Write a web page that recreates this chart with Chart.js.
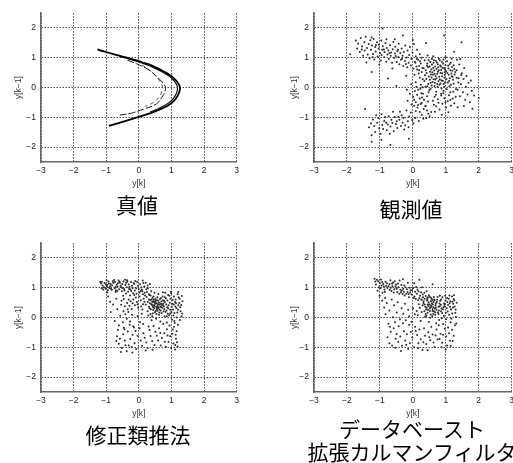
<!DOCTYPE html>
<html><head><meta charset="utf-8">
<script src="https://cdn.jsdelivr.net/npm/chart.js@4/dist/chart.umd.min.js"></script>
<style>
html,body{margin:0;padding:0;width:513px;height:463px;overflow:hidden;background:#fff;position:relative}
.p{position:absolute}
.cap{position:absolute;width:300px;font-family:"Noto Sans CJK JP","Noto Sans CJK SC",sans-serif;font-size:21px;color:#000;white-space:nowrap;text-align:center;line-height:22.5px}
</style></head><body>
<div class="p" style="left:0px;top:3px"><canvas id="c1" width="243" height="190"></canvas></div>
<div class="p" style="left:273px;top:3px"><canvas id="c2" width="245" height="190"></canvas></div>
<div class="p" style="left:0px;top:233px"><canvas id="c3" width="243" height="190"></canvas></div>
<div class="p" style="left:273px;top:233px"><canvas id="c4" width="245" height="190"></canvas></div>
<div class="cap" style="left:-13px;top:193px">真値</div>
<div class="cap" style="left:261px;top:197px">観測値</div>
<div class="cap" style="left:-12px;top:423px">修正類推法</div>
<div class="cap" style="left:262px;top:417px">データベースト<br>拡張カルマンフィルタ</div>
<script>
const X_TICKS = [-3,-2,-1,0,1,2,3];
const Y_TICKS = [-2,-1,0,1,2];
const X_TITLE = 'y[k]';
const Y_TITLE = 'y[k−1]';

// 真値 : strands read along the attractor (y[k], y[k-1])
const TRUE_OUTER = [[-1.27,1.28],[-1.1,1.22],[-0.9,1.16],[-0.7,1.1],[-0.5,1.04],[-0.3,0.98],[-0.1,0.92],[0.1,0.85],[0.33,0.77],[0.55,0.66],[0.75,0.55],[0.94,0.43],[1.08,0.31],[1.19,0.17],[1.26,0.02],[1.25,-0.12],[1.19,-0.28],[1.09,-0.43],[0.93,-0.58],[0.72,-0.7],[0.48,-0.81],[0.22,-0.91],[-0.05,-1.0],[-0.35,-1.1],[-0.65,-1.2],[-0.92,-1.29]];
const TRUE_OUTER2 = [[-0.6,1.05],[-0.3,0.96],[0.0,0.86],[0.3,0.74],[0.55,0.62],[0.78,0.49],[0.96,0.36],[1.1,0.2],[1.18,0.04],[1.18,-0.1],[1.12,-0.27],[1.0,-0.44],[0.83,-0.58],[0.6,-0.71],[0.35,-0.82]];
const TRUE_INNER1 = [[-0.35,0.92],[-0.07,0.8],[0.28,0.61],[0.59,0.33],[0.75,0.14],[0.82,0.0],[0.8,-0.13],[0.74,-0.27],[0.54,-0.55],[0.18,-0.71],[-0.23,-0.86],[-0.63,-0.93]];
const TRUE_INNER2 = [[0.1,0.76],[0.4,0.52],[0.62,0.25],[0.72,0.05],[0.71,-0.12],[0.62,-0.32],[0.45,-0.5],[0.2,-0.63]];

// 観測値
const OBS_POINTS = [
[-1.73,1.58],[-1.69,1.31],[-1.66,1.47],[-1.61,1.19],[-1.58,1.66],[-1.54,1.38],[-1.51,1.07],[-1.47,1.52],[-1.46,1.24],[-1.43,1.71],[-1.39,1.33],[-1.37,1.11],[-1.34,1.46],[-1.31,0.98],[-1.29,1.59],[-1.27,1.27],[-1.24,1.41],[-1.21,1.13],[-1.19,1.63],[-1.17,0.94],[-1.14,1.36],[-1.13,1.21],[-1.09,1.52],[-1.07,1.04],[-1.04,1.31],[-1.03,1.44],[-0.99,1.16],[-0.97,0.91],[-0.96,1.58],[-0.93,1.27],[-0.91,1.39],[-0.87,1.02],[-0.86,1.19],[-0.83,1.49],[-0.81,0.87],[-0.79,1.33],[-0.77,1.11],[-0.74,1.24],[-0.73,0.96],[-0.69,1.42],[-0.67,1.07],[-0.66,1.18],[-0.63,0.83],[-0.61,1.29],[-0.59,1.53],[-0.57,0.99],[-0.54,1.14],[-0.53,1.37],[-0.49,0.86],[-0.47,1.22],[-0.44,1.03],[-0.43,1.47],[-0.41,0.78],[-0.38,1.16],[-0.36,0.93],[-0.34,1.31],[-0.31,1.07],[-0.29,0.72],[-0.27,1.19],[-0.24,0.89],[-0.23,1.41],[-0.19,1.01],[-0.17,0.68],[-0.16,1.24],[-0.13,0.83],[-0.11,1.09],[-0.09,1.36],[-0.06,0.74],[-0.04,0.96],[-0.01,1.18],[0.02,0.63],[0.03,1.46],[0.06,0.87],[0.09,1.05],[0.11,0.71],[0.13,1.27],[0.16,0.93],[0.19,0.58],[0.21,1.12],[0.24,0.81],[0.27,1.0],[0.29,0.66],[-1.41,0.84],[-0.62,0.64],[-1.02,0.77],[-1.22,1.02],[-0.88,1.28],[-0.71,1.15],[-0.52,1.06],[-0.33,0.97],[-1.12,1.43],[-0.95,1.09],[-0.45,1.27],[-0.21,0.79],[-1.55,1.28],[-0.8,1.62],[-0.55,1.62],[-1.25,1.68],[0.12,0.97],
[0.72,0.31],[1.08,0.64],[0.47,0.12],[0.93,-0.11],[0.58,0.77],[1.21,0.36],[0.66,0.05],[0.84,0.49],[0.39,0.58],[1.15,0.83],[0.77,0.68],[0.52,0.26],[0.98,0.18],[0.61,0.43],[1.29,0.52],[0.88,0.87],[0.44,0.81],[0.71,-0.14],[1.02,0.29],[0.56,0.61],[0.81,0.09],[1.17,0.47],[0.64,0.92],[0.95,0.66],[0.49,0.37],[1.11,0.04],[0.76,0.53],[0.35,0.22],[0.89,0.38],[1.24,0.13],[0.68,0.71],[1.04,0.88],[0.57,0.07],[0.83,0.74],[0.42,0.49],[0.97,0.42],[1.19,0.69],[0.63,0.28],[0.79,0.97],[1.06,0.17],[0.53,0.86],[0.91,0.23],[0.74,0.46],[1.33,0.33],[0.46,0.68],[0.86,0.59],[1.12,0.31],[0.67,0.16],[0.99,0.76],[0.59,0.51],[0.82,0.27],[1.26,0.62],[0.38,0.03],[0.73,0.84],[1.01,0.55],[0.54,-0.04],[0.94,0.12],[0.69,0.39],[1.14,0.58],[0.87,-0.03],[0.48,0.92],[0.78,0.21],[1.09,0.43],[0.62,0.66],[0.92,0.81],[0.33,0.65],[1.22,0.26],[0.75,0.03],[0.55,0.44],[0.96,0.33],[0.85,0.71],[1.07,0.73],[0.65,0.57],[0.41,0.29],[1.16,0.09],[0.72,0.62],[0.89,0.48],[0.51,0.71],[1.03,-0.06],[0.8,0.36],[0.6,0.19],[0.93,0.94],[1.18,0.38],[0.7,0.89],[0.44,0.04],[0.84,0.14],[1.27,0.44],[0.57,0.34],[0.98,0.61],[0.76,0.78],[1.12,0.78],[0.66,0.46],[0.87,0.24],[0.52,0.53],[1.05,0.49],[0.79,0.58],[0.63,0.83],[0.95,0.02],[1.2,0.56],[0.43,0.73],[0.74,0.12],[0.9,0.66],[1.1,0.22],[0.58,0.96],[0.82,0.92],[0.37,0.41],[1.24,0.75],[0.68,0.27],[0.97,0.51],[0.54,0.16],
[0.05,0.43],[0.09,0.18],[0.13,0.61],[0.16,-0.07],[0.21,0.33],[0.19,0.72],[0.24,0.09],[0.27,0.52],[0.26,-0.19],[0.3,0.28],[0.08,0.83],[0.18,0.47],[0.29,0.01],
[0.7,-0.24],[0.5,-0.08],[0.86,-0.21],[1.14,-0.16],[1.31,-0.05],[0.62,1.05],[0.45,1.08],[1.0,1.02],[1.18,0.97],[0.36,0.92],[0.22,0.88],
[1.33,0.58],[1.36,-0.07],[1.39,0.31],[1.41,0.77],[1.43,-0.29],[1.46,0.11],[1.49,0.48],[1.52,-0.16],[1.54,0.29],[1.56,0.66],[1.59,-0.41],[1.61,0.03],[1.63,0.39],[1.66,-0.23],[1.69,0.16],[1.73,-0.49],[1.76,0.24],[1.79,-0.11],[1.81,-0.71],[1.34,0.93],[1.44,0.96],[1.55,-0.62],[1.86,-0.27],[1.47,0.42],[1.38,0.17],
[-1.02,-1.37],[-0.41,-1.08],[0.21,-0.82],[-1.27,-1.21],[-0.68,-1.31],[0.07,-1.02],[-0.87,-1.12],[-0.23,-1.27],[0.43,-0.77],[-1.14,-1.49],[-0.55,-0.99],[-0.06,-0.84],[-0.79,-1.43],[0.32,-1.05],[-0.34,-0.93],[-1.21,-1.07],[-0.62,-1.19],[0.14,-0.67],[-0.93,-1.26],[-0.15,-1.13],[0.51,-0.96],[-0.47,-1.36],[-1.08,-1.18],[-0.28,-1.02],[0.02,-1.21],[-0.73,-0.96],[0.38,-0.63],[-0.98,-1.55],[-0.39,-0.81],[-1.33,-1.33],[-0.58,-1.47],[0.27,-0.92],[-0.84,-0.99],[-0.11,-0.97],[-0.65,-1.08],[0.09,-0.79],[-1.17,-1.29],[-0.31,-1.18],[0.47,-0.88],[-0.76,-1.24],[-0.02,-1.09],[-0.51,-1.22],[-0.9,-1.39],[0.18,-1.12],[-0.19,-0.77],[-1.05,-1.02],[-0.44,-0.98],[0.33,-0.72],[-0.7,-1.55],[-0.26,-1.41],[0.56,-0.82],[-1.25,-1.6],[0.04,-0.61],[-0.81,-1.18],[-0.36,-1.29],[0.24,-0.55],[-0.6,-0.81],[-1.11,-0.93],[-0.13,-1.33],[-0.95,-0.9],[0.41,-1.02],[-0.49,-1.13],
[-0.16,-0.44],[-0.09,-0.21],[-0.04,-0.57],[0.01,-0.31],[0.06,-0.12],[0.09,-0.49],[0.13,-0.24],[0.16,-0.59],[0.21,-0.37],[0.23,-0.04],[0.27,-0.52],[0.31,-0.21],[0.34,-0.41],[0.39,-0.61],[0.43,-0.29],[0.46,-0.47],[0.48,-0.16],[-0.18,-0.07],[0.11,0.03],[-0.05,0.11],[0.28,-0.33],[0.04,-0.41],
[0.61,-0.44],[0.99,-0.49],[0.71,-0.63],[1.16,-0.61],[0.76,-0.39],[1.3,-0.31],[0.81,-0.74],[0.66,-0.31],[1.06,-0.46],[0.86,-0.27],[1.26,-0.53],[0.9,-0.54],[1.1,-0.26],[0.96,-0.36],[1.36,-0.66],[1.01,-0.67],[1.21,-0.37],[0.78,-0.51],[0.93,-0.19],[1.08,-0.83],[0.67,-0.81],[1.23,-0.14],[0.88,-0.91],[0.64,-0.58],[1.14,-0.42],
[-0.92,1.98],[-0.3,1.75],[0.95,1.75],[1.48,1.52],[-1.9,1.12],[-1.25,0.52],[-1.45,-0.72],[-0.95,-1.75],[-0.68,-1.93],[-0.12,-1.72],[-1.25,-1.82],[-0.5,0.05],[-0.75,0.3],[2.0,-0.35],[0.4,1.5],[0.0,1.6],[1.25,1.2],[-0.2,0.4]
];

// 修正類推法
const MA_POINTS = [
[-1.16,1.14],[-0.71,1.03],[-0.24,1.19],[0.11,0.88],[-0.93,1.21],[-0.45,0.96],[0.27,1.08],[-1.07,1.02],[-0.58,1.17],[-0.12,0.91],[-0.83,0.93],[0.04,1.12],[-0.36,1.25],[-1.13,1.2],[-0.66,0.89],[0.19,0.74],[-0.97,1.09],[-0.29,1.03],[-0.51,1.13],[0.08,1.01],[-0.78,1.16],[-0.17,0.82],[-1.02,0.97],[-0.41,1.09],[0.23,0.95],[-0.88,1.05],[-0.05,1.2],[-0.62,1.24],[-0.33,0.87],[0.14,1.16],[-1.11,1.08],[-0.74,0.98],[-0.21,1.07],[0.31,0.78],[-0.95,0.92],[-0.54,1.02],[-0.08,0.98],[-0.8,1.22],[-0.39,1.17],[0.17,1.04],[-1.05,1.16],[-0.68,1.1],[-0.26,0.94],[0.02,0.84],[-0.86,1.13],[-0.47,1.21],[-0.14,1.13],[-0.6,0.95],[0.25,0.86],[-0.99,1.25],[-0.31,1.11],[-0.73,1.19],[0.09,0.93],[-0.44,0.91],[-1.09,0.94],[-0.19,0.99],[-0.56,1.07],[0.21,1.17],[-0.9,0.99],[-0.02,1.07],[-0.37,1.02],[-0.64,1.15],[-0.82,1.08],[-0.11,1.23],[0.13,0.78],[-0.5,0.99],[-1.01,1.11],[-0.23,0.89],[0.28,0.98],[-0.7,0.92],[-0.42,1.27],[0.06,0.89],[-0.92,1.14],[-0.16,1.16],[-0.59,1.2],[0.34,1.13],[-0.76,1.26],[-0.3,0.96],[0.0,0.95],[-0.85,0.97],[-1.18,1.19],[-0.52,0.88],[0.18,0.83],[-0.07,0.8],[-0.35,1.2],[-0.97,1.03],[0.38,0.88],[-0.65,1.04],[-1.14,0.98],[0.12,1.24],
[-0.48,0.73],[0.21,0.44],[-0.17,0.61],[0.42,0.66],[-0.36,0.49],[0.07,0.37],[-0.27,0.74],[0.33,0.31],[-0.06,0.52],[0.52,0.57],[-0.43,0.38],[0.15,0.63],[-0.22,0.29],[0.47,0.39],[-0.31,0.61],[0.02,0.71],[0.27,0.52],[-0.12,0.41],[-0.53,0.56],[0.38,0.45],[-0.09,0.67],[0.11,0.27],[-0.39,0.81],[0.56,0.33],[-0.19,0.48],[0.24,0.69],[-0.02,0.33],[0.44,0.55],[-0.29,0.4],[0.17,0.53],[-0.46,0.62],[0.31,0.61],[-0.14,0.76],[0.06,0.58],[0.5,0.47],[-0.34,0.28],[0.36,0.74],[-0.25,0.55],[0.13,0.45],[-0.04,0.44],
[0.47,0.42],[0.82,0.19],[1.13,0.61],[0.58,0.31],[0.94,0.73],[0.36,0.12],[1.27,0.35],[0.69,0.54],[1.02,-0.07],[0.51,0.63],[0.77,0.38],[1.18,0.17],[0.41,0.52],[0.88,0.57],[0.62,0.09],[1.07,0.44],[0.31,0.36],[0.73,0.71],[1.22,0.68],[0.55,0.48],[0.96,0.26],[0.44,0.25],[0.81,0.83],[1.31,0.04],[0.66,0.37],[1.04,0.59],[0.39,0.61],[0.86,0.04],[0.6,0.56],[1.15,0.32],[0.49,0.18],[0.75,0.47],[0.99,0.82],[0.27,0.21],[0.7,0.15],[1.24,0.49],[0.53,0.37],[0.91,0.41],[0.45,0.71],[1.09,0.15],[0.64,0.44],[0.83,0.64],[0.34,0.48],[1.19,0.78],[0.57,0.23],[0.78,0.29],[1.01,0.36],[0.42,0.39],[0.68,0.66],[1.28,0.21],[0.5,0.53],[0.89,0.13],[0.61,0.34],[1.11,0.52],[0.37,0.28],[0.74,0.58],[0.95,0.5],[0.54,0.12],[1.21,0.41],[0.67,0.24],[0.84,0.45],[0.46,0.6],[1.05,0.27],[0.59,0.45],[0.79,0.04],[1.34,0.55],[0.4,0.44],[0.72,0.33],[0.97,0.63],[0.56,0.58],[1.16,0.0],[0.63,0.17],[0.87,0.35],[0.48,0.31],[1.25,0.63],[0.71,0.43],[0.93,0.08],[0.52,0.47],[1.08,0.71],[0.65,0.62],[0.8,0.52],[0.43,0.14],[1.0,0.19],[0.58,0.39],[1.3,0.42],[0.76,0.21],[0.9,0.76],[0.35,0.58],[1.12,0.37],[0.69,0.35],[0.55,0.28],[0.85,0.24],[1.2,0.26],[0.62,0.5],[0.47,0.51],[1.03,0.46],[0.74,0.41],[0.29,0.07],[0.96,0.14],[1.26,-0.08],[0.53,-0.04],[0.66,-0.13],[0.86,-0.17],[1.1,-0.18],[0.39,-0.09],[0.6,0.79],[0.74,0.85],[0.48,0.83],[0.98,0.87],[1.21,0.86],[0.33,0.76],[1.32,0.72],[1.06,0.07],[0.8,0.68],[0.57,0.68],[0.44,0.34],[0.68,0.46],[0.9,0.31],[0.63,0.27],[0.52,0.22],[0.77,0.56],[1.14,0.48],[1.33,0.14],[0.41,0.04],
[-0.67,-0.63],[0.23,-0.84],[-0.31,-0.94],[0.78,-0.53],[-0.52,-1.02],[1.08,-0.31],[0.06,-0.77],[-0.19,-0.58],[0.48,-0.92],[1.14,-0.71],[-0.43,-0.77],[0.33,-0.42],[-0.08,-1.06],[0.91,-0.82],[-0.61,-0.88],[0.62,-0.36],[1.19,-0.97],[-0.26,-0.72],[0.14,-0.53],[0.71,-0.69],[-0.48,-0.56],[0.41,-0.79],[1.03,-0.54],[-0.13,-0.86],[0.55,-0.61],[-0.37,-1.13],[0.86,-0.39],[1.16,-0.46],[0.02,-0.36],[-0.58,-0.71],[0.27,-1.02],[0.96,-0.63],[-0.22,-0.99],[0.67,-0.94],[1.11,-1.07],[-0.04,-0.61],[0.45,-0.28],[-0.34,-0.47],[0.83,-0.98],[1.06,-0.87],[0.18,-0.68],[-0.55,-1.16],[0.59,-0.77],[1.2,-0.24],[-0.15,-0.33],[0.36,-0.62],[0.75,-0.22],[-0.41,-0.93],[1.13,-0.58],[0.1,-0.95],[0.94,-0.27],[-0.28,-0.24],[0.51,-0.48],[1.09,-0.12],[-0.64,-0.42],[0.21,-1.11],[0.8,-0.81],[-0.1,-0.45],[0.66,-0.52],[1.17,-0.83],[-0.46,-0.34],[0.3,-0.3],[0.99,-1.02],[1.04,-0.4],[0.42,-1.08],[-0.69,-0.79],[0.13,-0.22],[0.88,-0.6],[-0.2,-1.17],[1.12,-0.92],
[-0.94,0.71],[-0.88,0.53],[-0.86,0.19],[-0.79,0.44],[-0.74,-0.12],[-0.69,0.63],[-0.66,0.28],[-0.61,-0.27],[-0.57,0.06],[-0.54,0.43],[-0.49,-0.16],[-0.47,0.21],[-0.44,-0.39],[-0.41,0.11],[-0.37,-0.04],[-0.32,0.19],[-0.27,-0.13],[-0.21,0.09],[-0.17,-0.29],[-0.04,0.04],[0.09,0.13],[0.04,-0.16],[-0.71,0.86],[-0.97,0.84]
];

// データベースト拡張カルマンフィルタ
const DBEKF_POINTS = [
[-1.14,1.21],[-0.62,1.05],[-0.13,0.79],[0.31,0.68],[-0.9,1.13],[-0.38,0.93],[0.12,0.8],[-1.03,1.02],[-0.51,1.11],[-0.02,0.92],[0.44,0.61],[-0.77,0.99],[-0.27,0.87],[0.22,0.73],[-1.09,1.27],[-0.65,0.89],[-0.18,0.95],[0.35,0.83],[-0.95,1.08],[-0.44,1.02],[0.05,0.71],[-0.83,1.2],[-0.31,0.79],[0.17,0.88],[-0.71,1.12],[-0.22,1.02],[0.27,0.61],[-1.0,1.16],[-0.56,0.95],[-0.08,0.84],[0.49,0.75],[-0.86,0.94],[-0.35,1.09],[0.09,0.62],[-0.6,1.18],[-0.12,0.68],[0.39,0.72],[-0.98,0.98],[-0.47,0.86],[0.01,0.99],[-0.74,1.05],[-0.25,0.74],[0.2,0.65],[-1.12,1.11],[-0.67,1.0],[-0.16,0.86],[0.56,0.66],[-0.88,1.04],[-0.41,0.8],[0.14,0.94],[-0.53,1.04],[-0.04,0.77],[0.3,0.77],[-0.79,1.15],[-0.29,0.97],[-1.05,1.22],[-0.58,0.84],[0.07,0.87],[0.46,0.68],[-0.93,1.19],[-0.36,0.85],[0.25,0.85],[-0.7,0.93],[-0.2,0.8],[0.59,0.59],[-1.16,1.3],[-0.49,0.97],[-0.1,1.0],[0.36,0.63],[-0.81,1.06],[-0.33,0.91],[0.03,0.66],[-0.63,1.14],[-0.07,0.92],[0.52,0.7],[-0.97,1.28],[-0.45,1.14],[0.16,0.58],[-0.26,1.08],[0.42,0.88],[-0.55,1.22],[0.1,1.03],[-0.15,1.17],[-0.85,0.87],[-0.68,1.25],[0.28,1.02],[-0.4,1.24],[0.04,1.15],[-1.07,0.9],[-0.92,0.83],[0.6,1.12],[0.2,1.27],[-0.3,1.29],
[0.42,0.33],[0.78,0.12],[1.14,0.55],[0.55,0.41],[0.91,0.28],[0.27,0.19],[1.27,0.37],[0.66,0.58],[1.01,-0.06],[0.48,0.51],[0.72,0.26],[1.2,0.14],[0.36,0.44],[0.86,0.61],[0.59,0.05],[1.07,0.42],[0.21,0.33],[0.75,0.69],[1.24,0.62],[0.52,0.22],[0.95,0.47],[0.39,0.12],[0.82,0.38],[1.31,0.02],[0.63,0.35],[1.04,0.66],[0.33,0.55],[0.88,-0.02],[0.57,0.63],[1.16,0.27],[0.45,0.16],[0.7,0.47],[0.98,0.73],[0.15,0.08],[0.68,0.18],[1.23,0.46],[0.51,0.3],[0.93,0.35],[0.44,0.66],[1.1,0.09],[0.61,0.44],[0.83,0.56],[0.3,0.41],[1.19,0.71],[0.54,0.1],[0.79,0.24],[1.03,0.31],[0.4,0.27],[0.65,0.61],[1.29,0.16],[0.47,0.39],[0.89,0.15],[0.6,0.29],[1.12,0.48],[0.35,0.21],[0.73,0.52],[0.97,0.44],[0.53,-0.01],[1.22,0.34],[0.64,0.21],[0.85,0.43],[0.43,0.57],[1.06,0.2],[0.58,0.48],[0.8,-0.08],[1.33,0.5],[0.38,0.36],[0.7,0.34],[0.99,0.57],[0.55,0.55],[1.17,-0.04],[0.62,0.13],[0.87,0.3],[0.46,0.25],[1.26,0.57],[0.69,0.41],[0.94,0.06],[0.5,0.45],[1.09,0.63],[0.63,0.52],[0.81,0.47],[0.41,0.06],[1.0,0.16],[0.57,0.36],[1.3,0.27],[0.76,0.17],[0.9,0.68],[0.32,0.49],[1.13,0.36],[0.67,0.3],[0.24,-0.12],[0.49,-0.15],[0.71,-0.19],[0.92,-0.22],[1.15,-0.16],[1.32,-0.2],[0.18,0.45],[0.12,0.22],[0.26,0.6],[0.74,0.6],[0.86,0.21],[1.05,0.52],[0.6,0.22],[0.45,0.44],[0.53,0.35],[0.78,0.36],[0.68,0.09],[0.96,0.38],[1.2,0.53],[0.37,0.03],[0.82,0.73],[1.11,0.74],[1.25,0.75],[0.64,0.69],
[-0.77,-0.66],[0.24,-0.73],[-0.33,-0.95],[0.79,-0.26],[-0.53,-1.01],[1.07,-0.33],[0.04,-1.0],[-0.18,-0.56],[0.47,-0.49],[1.13,-0.78],[-0.44,-0.81],[0.34,-0.36],[-0.09,-0.86],[0.89,-0.85],[-0.63,-0.94],[0.6,-0.57],[1.24,-0.61],[-0.27,-0.46],[0.13,-0.59],[0.72,-0.4],[-0.49,-0.55],[0.41,-0.89],[1.01,-0.64],[-0.14,-1.06],[0.53,-0.76],[-0.38,-0.64],[0.84,-0.54],[1.19,-0.41],[0.07,-0.31],[-0.58,-0.36],[0.29,-1.09],[0.97,-0.38],[-0.23,-0.77],[0.66,-0.99],[1.04,-0.94],[-0.02,-0.67],[0.45,-1.1],[-0.71,-0.86],[0.81,-0.72],[1.1,-0.53],[0.17,-0.86],[-0.36,-1.12],[0.56,-0.31],[1.28,-0.26],[-0.11,-0.24],[0.37,-0.61],[0.75,-0.74],[-0.43,-0.29],[1.15,-0.95],[0.09,-0.45],[0.92,-0.58],[-0.3,-0.19],[0.5,-0.66],[0.63,-0.84],[-0.67,-0.48],[0.2,-0.4],[0.87,-1.0],[-0.06,-0.48],[0.69,-0.6],[1.21,-0.79],[-0.52,-0.71],[0.32,-0.83],[1.0,-1.07],[0.16,-1.03],[-0.2,-0.91],
[-1.01,0.73],[-0.93,0.57],[-0.87,0.34],[-0.83,0.11],[-0.79,0.49],[-0.74,-0.21],[-0.71,0.24],[-0.64,0.61],[-0.61,0.01],[-0.57,0.41],[-0.54,-0.16],[-0.49,0.17],[-0.46,0.51],[-0.39,-0.06],[-0.34,0.31],[-0.29,0.13],[-0.24,0.46],[-0.21,-0.09],[-0.14,0.26],[-0.11,0.04],[0.01,0.31],[0.06,0.11],[-0.04,-0.14],[-0.69,-0.31],[-0.84,0.66]
];

const toXY = a => a.map(p => ({x: p[0], y: p[1]}));
const minus = v => (v < 0 ? '\u2212' + Math.abs(v) : String(v));
const TICK_FONT = {family: 'Liberation Sans', size: 8.5};
const TITLE_FONT = {family: 'Liberation Sans', size: 8.5};

function makeScales(yTitlePad) {
  return {
    x: {
      type: 'linear', min: -3, max: 3,
      afterBuildTicks: s => { s.ticks = X_TICKS.map(v => ({value: v})); },
      afterFit: s => { s.height = 31; },
      ticks: {callback: minus, font: TICK_FONT, color: '#1a1a1a', padding: 4, maxRotation: 0, autoSkip: false},
      grid: {color: '#4a4a4a', lineWidth: 1, drawTicks: false},
      border: {display: true, color: '#666', width: 1.5, dash: [1.5, 1.5]},
      title: {display: true, text: X_TITLE, font: TITLE_FONT, color: '#333', padding: {top: 0, bottom: 4}}
    },
    y: {
      type: 'linear', min: -2.5, max: 2.5,
      afterBuildTicks: s => { s.ticks = Y_TICKS.map(v => ({value: v})); },
      afterFit: s => { s.width = 41; },
      ticks: {callback: minus, font: TICK_FONT, color: '#1a1a1a', padding: 5, autoSkip: false},
      grid: {color: '#4a4a4a', lineWidth: 1, drawTicks: false},
      border: {display: true, color: '#666', width: 1.5, dash: [1.5, 1.5]},
      title: {display: true, text: Y_TITLE, font: TITLE_FONT, color: '#333', padding: {top: yTitlePad, bottom: 0}}
    }
  };
}

function scatterSet(pts) {
  return {data: toXY(pts), pointRadius: 1.0, pointBackgroundColor: '#2a2a2a', pointBorderWidth: 0, pointHoverRadius: 0};
}
function curveSet(pts, w, color, dash) {
  return {data: toXY(pts), showLine: true, pointRadius: 0, borderColor: color, borderWidth: w, tension: 0.4, borderDash: dash || [], fill: false};
}

function make(id, datasets, yTitlePad) {
  new Chart(document.getElementById(id), {
    type: 'scatter',
    data: {datasets},
    options: {
      responsive: false, animation: false, devicePixelRatio: 1,
      events: [],
      layout: {padding: {left: 0, right: 6, top: 8, bottom: 0}},
      plugins: {legend: {display: false}, tooltip: {enabled: false}},
      scales: makeScales(yTitlePad)
    }
  });
}

make('c1', [
  curveSet(TRUE_OUTER, 1.8, '#000'),
  curveSet(TRUE_OUTER2, 1.2, '#111'),
  curveSet(TRUE_INNER1, 1.0, '#1a1a1a', [7, 2]),
  curveSet(TRUE_INNER2, 0.8, '#2a2a2a', [4, 3])
], 14);
make('c2', [scatterSet(OBS_POINTS)], 17);
make('c3', [scatterSet(MA_POINTS)], 14);
make('c4', [scatterSet(DBEKF_POINTS)], 17);
</script>
</body></html>
